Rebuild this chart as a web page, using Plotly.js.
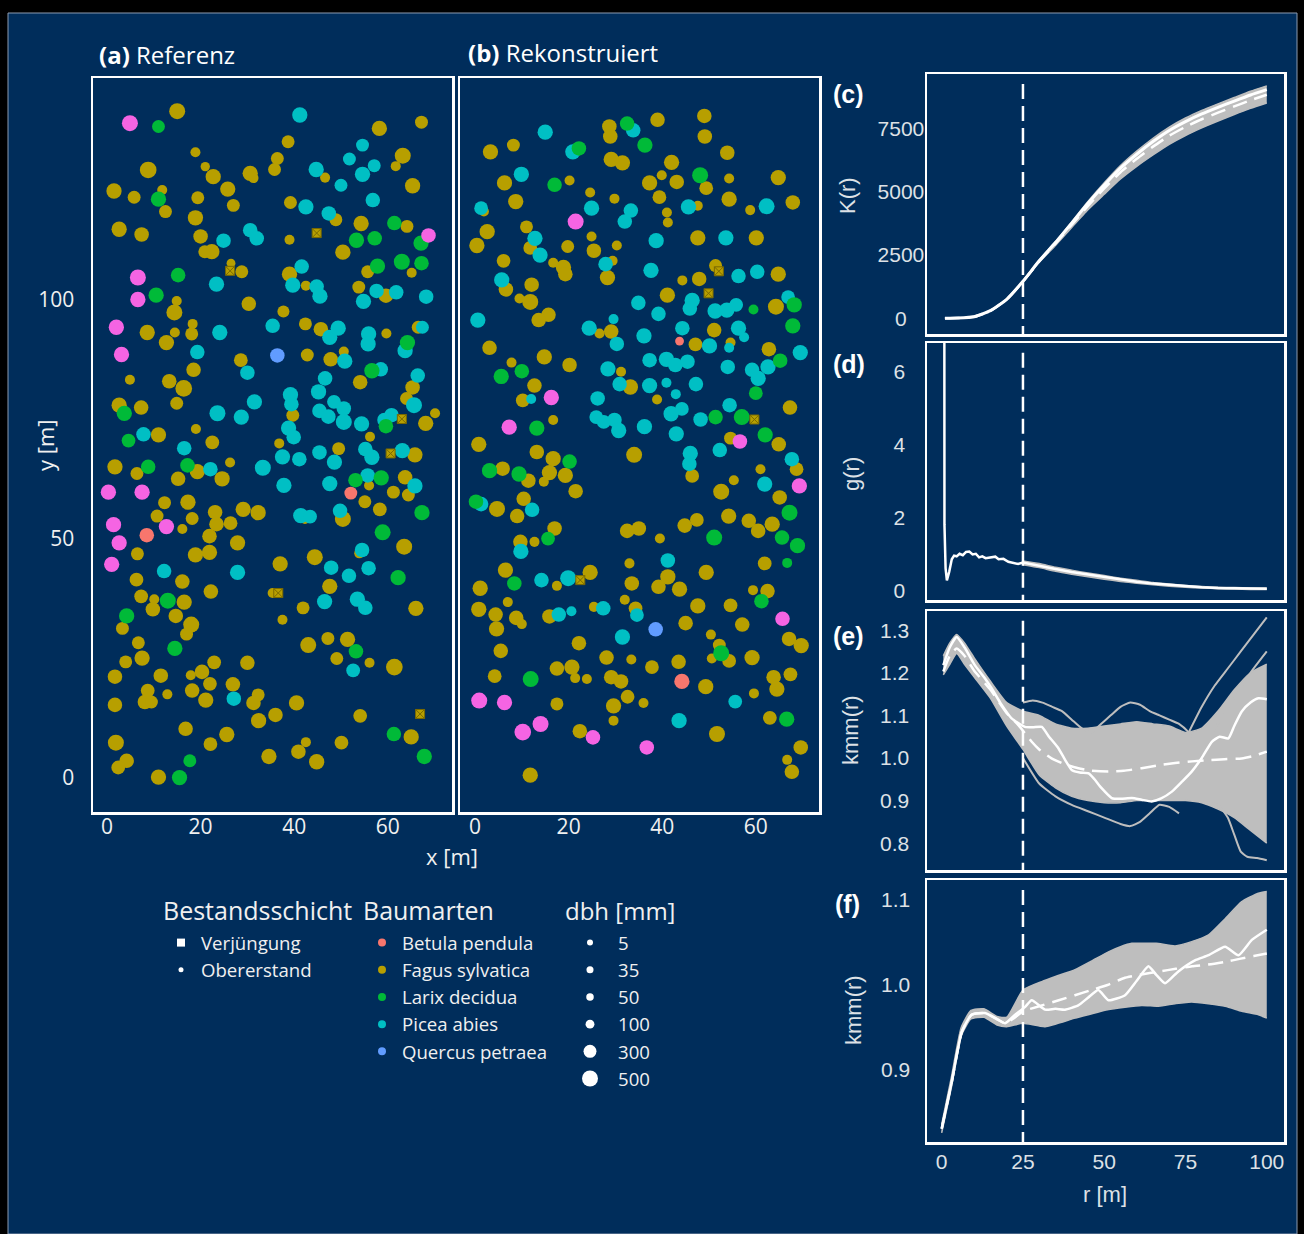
<!DOCTYPE html>
<html><head><meta charset="utf-8">
<script src="https://cdn.plot.ly/plotly-3.0.1.min.js"></script>
<style>html,body{margin:0;padding:0;background:#000;}#chart{width:1304px;height:1234px;}</style>
</head><body><div id="chart"></div>
<script>
// ---------------- DATA ----------------
// species codes: B Betula pendula, F Fagus sylvatica, L Larix decidua, P Picea abies, Q Quercus petraea, M (further species, not in legend)
const speciesCodes = ['B','F','L','P','Q'];
const speciesNames = ['Betula pendula','Fagus sylvatica','Larix decidua','Picea abies','Quercus petraea'];
const layerNames = ['Verjüngung','Obererstand'];
const legendTitles = ['Bestandsschicht','Baumarten','dbh [mm]'];
const dbhLegend = [5,35,50,100,300,500];
const kTicks = [0,2500,5000,7500];

// (a) Referenz: [x m, y m, species, dbh mm]
const refTrees = [
[4.9,137.0,'M',500],[11.0,136.3,'L',300],[15.0,139.5,'F',500],[41.2,138.7,'P',450],[58.2,135.9,'F',450],[67.2,137.2,'F',300],
[18.9,130.9,'F',150],[21.0,127.9,'F',120],[8.8,127.2,'F',550],[22.7,125.8,'F',450],[30.6,126.5,'F',450],[31.3,125.5,'F',150],
[36.4,129.6,'F',300],[35.8,127.3,'F',300],[38.7,133.1,'F',300],[44.7,127.3,'P',450],[46.6,125.6,'F',150],[51.8,129.5,'P',300],
[54.6,132.4,'P',300],[54.6,126.3,'P',450],[57.1,128.1,'P',300],[63.2,130.2,'F',500],[61.7,128.0,'F',150],[65.3,123.9,'F',450],
[50.0,124.0,'P',300],[1.5,122.8,'F',450],[5.8,121.5,'F',300],[11.8,123.0,'F',150],[11.0,121.1,'L',450],[12.5,118.5,'F',300],
[19.4,121.4,'F',300],[25.8,123.2,'F',450],[27.0,119.8,'F',300],[18.9,117.2,'F',450],[39.2,120.4,'F',300],[42.5,119.5,'P',450],
[47.4,118.1,'P',400],[48.9,116.8,'F',300],[56.8,120.9,'P',400],[54.3,116.0,'F',450],[61.4,116.1,'L',400],[64.1,115.4,'F',300],
[68.7,113.5,'M',400],[67.1,111.9,'L',450],[2.6,114.8,'F',450],[7.4,113.7,'F',400],[20.0,113.3,'F',400],[24.9,112.4,'P',400],
[30.6,114.6,'P',400],[32.0,112.9,'P',400],[39.0,112.6,'F',150],[53.3,112.5,'L',450],[57.2,112.9,'L',400],[50.4,110.0,'F',450],
[22.4,110.1,'F',450],[20.9,110.1,'F',300],[6.6,104.7,'M',500],[15.2,105.2,'L',400],[26.5,107.7,'F',100],[28.8,105.9,'F',300],
[23.4,103.3,'P',450],[41.6,107.0,'P',400],[39.0,105.4,'F',450],[39.7,103.1,'P',450],[42.5,103.0,'F',150],[44.8,102.8,'P',400],
[45.5,100.8,'P',450],[53.8,102.7,'F',300],[55.7,105.9,'F',300],[57.8,107.1,'L',450],[63.0,108.0,'L',500],[67.2,107.7,'L',400],
[65.1,105.7,'F',150],[57.6,101.9,'P',400],[61.8,101.6,'P',400],[59.6,100.9,'F',400],[68.2,100.7,'P',400],[54.8,99.7,'P',450],
[6.6,100.1,'M',450],[10.5,101.0,'L',450],[14.9,99.8,'F',150],[14.4,97.4,'F',500],[30.3,99.2,'F',400],[37.7,97.6,'F',250],
[2.0,94.3,'M',450],[8.6,93.2,'F',450],[14.5,93.2,'F',150],[18.1,92.9,'F',300],[18.3,95.0,'F',150],[24.1,93.2,'P',450],
[35.4,94.6,'P',400],[42.4,95.0,'F',300],[45.7,93.9,'F',400],[47.6,92.2,'P',450],[49.4,94.1,'P',450],[55.9,92.9,'P',450],
[55.8,90.8,'P',450],[59.7,93.0,'F',150],[66.5,94.3,'F',300],[67.4,94.3,'P',300],[64.2,91.1,'L',450],[63.7,89.4,'P',450],
[3.1,88.6,'M',450],[12.7,91.1,'F',450],[19.3,89.1,'P',400],[18.5,85.4,'F',400],[36.4,88.4,'Q',400],[28.6,87.4,'F',350],
[30.0,84.8,'P',400],[42.8,88.5,'F',300],[47.8,87.6,'F',400],[50.6,89.2,'F',150],[50.8,87.2,'P',450],[56.6,85.2,'L',450],
[58.5,85.5,'P',400],[66.4,84.2,'P',400],[4.9,83.3,'F',150],[13.3,83.0,'F',400],[16.4,81.5,'F',550],[54.1,82.8,'F',400],
[65.3,81.7,'F',400],[46.6,83.6,'P',400],[45.2,80.8,'P',450],[39.2,80.2,'P',450],[39.4,78.2,'P',400],[64.0,79.4,'F',300],
[65.6,78.0,'P',500],[2.6,78.0,'F',450],[3.7,76.3,'L',450],[7.3,77.5,'F',400],[14.9,78.4,'F',300],[23.6,76.3,'P',500],
[28.7,75.5,'P',450],[31.5,78.7,'P',450],[39.7,75.9,'F',300],[45.4,76.8,'P',400],[47.3,75.6,'P',400],[48.5,78.7,'P',350],
[50.6,77.3,'P',400],[50.6,74.5,'P',500],[54.4,74.1,'P',450],[59.3,74.9,'P',400],[60.8,75.9,'P',400],[59.6,73.6,'L',400],
[68.1,74.2,'F',450],[70.1,76.3,'F',150],[38.8,73.2,'P',450],[39.9,71.3,'P',400],[19.0,73.0,'F',150],[7.8,71.9,'P',400],
[11.0,71.8,'F',450],[4.6,70.6,'L',350],[22.5,70.2,'F',350],[16.5,69.0,'P',400],[36.8,70.0,'F',150],[49.5,68.9,'F',300],
[56.2,71.4,'F',150],[55.2,68.8,'P',400],[56.6,67.1,'P',450],[63.1,68.5,'P',450],[65.8,67.6,'F',450],[45.4,68.1,'P',400],
[48.6,66.1,'P',450],[37.5,67.2,'P',450],[41.1,66.7,'P',400],[33.3,64.9,'P',500],[1.7,65.1,'F',450],[6.4,63.7,'F',300],
[8.8,65.1,'L',400],[17.2,65.4,'L',400],[19.3,64.1,'F',450],[22.1,64.6,'P',400],[26.3,66.0,'F',150],[15.2,62.6,'F',400],
[24.6,62.6,'F',450],[37.8,61.2,'P',450],[47.6,61.6,'P',450],[53.1,62.3,'L',400],[55.7,63.3,'P',400],[58.6,62.8,'L',450],
[63.7,62.9,'F',400],[56.0,61.2,'F',150],[65.8,61.1,'P',450],[52.1,59.6,'B',300],[61.2,59.8,'F',300],[64.4,59.2,'F',300],
[0.3,59.8,'M',450],[7.5,59.8,'M',450],[55.1,57.8,'F',300],[58.3,56.2,'F',350],[12.3,57.6,'F',300],[17.3,57.7,'F',450],
[10.7,54.8,'F',300],[18.2,54.3,'F',300],[23.1,55.6,'F',400],[23.4,53.1,'F',400],[26.4,53.3,'F',350],[29.1,56.2,'F',450],
[32.3,55.5,'F',450],[41.4,54.9,'P',450],[43.4,54.7,'P',350],[42.3,54.2,'F',150],[49.8,55.9,'P',400],[50.4,54.2,'F',500],
[67.3,55.5,'L',450],[1.4,53.0,'M',450],[12.7,52.6,'M',450],[8.5,50.8,'B',400],[2.6,49.2,'M',450],[16.1,52.1,'F',150],
[21.9,50.6,'F',400],[27.9,49.2,'F',450],[58.9,51.4,'L',500],[63.5,48.4,'F',500],[54.5,47.7,'P',400],[53.9,47.0,'F',150],
[6.5,46.9,'F',300],[18.9,46.7,'F',450],[21.9,47.2,'F',450],[37.0,44.8,'F',450],[44.4,46.2,'F',500],[1.0,44.7,'M',450],
[12.2,43.3,'P',400],[27.9,43.0,'P',450],[47.9,44.0,'P',400],[55.9,43.9,'P',400],[51.7,42.3,'P',400],[62.2,41.9,'L',450],
[6.3,41.5,'F',350],[16.1,41.1,'F',400],[7.3,38.0,'F',350],[10.1,37.4,'F',150],[13.0,37.1,'L',500],[16.5,36.8,'F',450],
[4.2,33.9,'L',450],[9.8,35.3,'F',400],[14.7,33.9,'F',400],[18.0,32.1,'F',500],[17.0,30.1,'F',300],[3.3,31.3,'F',300],
[22.2,39.0,'F',400],[35.4,38.7,'F',150],[47.6,40.1,'F',450],[46.5,36.9,'P',450],[53.5,37.4,'P',450],[55.2,35.6,'P',400],
[41.9,35.6,'F',300],[66.0,35.5,'F',450],[37.5,33.1,'F',150],[6.7,28.3,'F',300],[14.5,27.1,'L',450],[43.0,27.8,'F',500],
[47.2,29.2,'F',300],[51.4,29.0,'F',450],[53.2,26.5,'L',400],[49.1,25.0,'F',300],[56.1,24.1,'F',150],[52.6,22.5,'P',350],
[61.4,23.2,'F',550],[4.0,24.3,'F',300],[7.5,25.1,'F',450],[1.7,21.2,'F',400],[11.5,21.4,'F',400],[17.9,21.5,'F',150],
[20.3,22.2,'F',400],[22.9,24.2,'F',350],[30.0,24.1,'F',400],[22.0,19.7,'F',350],[26.9,19.6,'F',400],[18.2,18.3,'F',400],
[8.7,18.3,'F',350],[8.1,15.9,'F',400],[9.5,15.9,'F',300],[12.9,17.5,'F',150],[21.1,16.3,'F',450],[27.1,16.6,'P',400],
[32.3,17.4,'F',300],[31.3,15.7,'F',400],[1.7,15.3,'F',400],[40.5,15.7,'F',450],[54.1,13.0,'F',350],[32.4,12.0,'F',450],
[36.0,13.2,'F',400],[16.8,10.3,'F',400],[1.9,7.4,'F',500],[22.1,7.1,'F',350],[25.6,9.1,'F',450],[42.5,7.5,'F',150],
[40.9,5.5,'F',400],[50.1,7.4,'F',350],[61.3,9.2,'L',400],[65.0,8.6,'F',450],[4.2,3.6,'F',400],[2.4,2.2,'F',350],
[34.6,4.5,'F',450],[44.8,3.4,'F',450],[67.8,4.5,'L',450],[17.7,3.6,'L',300],[11.0,0.2,'F',450],[15.5,0.1,'L',450]
];
// (a) regeneration (Verjüngung), Fagus sylvatica: [x, y]
const refRegen = [[44.8,114.0],[26.3,106.1],[63.0,75.1],[60.6,67.9],[36.6,38.7],[66.9,13.4]];

// (b) Rekonstruiert
const recTrees = [
[15.0,135.1,'P',450],[28.7,136.3,'F',400],[28.9,134.2,'F',400],[33.8,135.5,'P',400],[32.5,136.9,'L',400],[39.0,137.7,'F',400],
[49.0,138.5,'F',400],[49.1,134.2,'F',400],[36.3,132.4,'L',450],[3.3,131.0,'F',450],[8.2,132.4,'F',300],[20.9,131.0,'P',450],
[22.2,131.7,'L',400],[29.1,129.4,'F',450],[31.5,128.7,'F',450],[42.0,128.8,'F',450],[53.9,130.8,'F',400],[9.9,126.3,'P',450],
[6.3,124.5,'F',450],[17.0,124.1,'L',400],[20.2,125.0,'F',150],[37.3,124.5,'F',450],[39.9,126.1,'F',150],[43.1,124.7,'F',400],
[48.1,126.1,'L',500],[49.4,123.4,'F',350],[54.3,125.4,'F',150],[64.8,125.6,'F',450],[8.7,120.6,'F',450],[24.6,122.5,'F',150],
[29.8,121.2,'F',150],[39.4,121.5,'F',350],[54.3,121.1,'F',450],[67.9,120.4,'F',400],[1.9,118.5,'F',150],[1.3,119.2,'P',350],
[24.9,119.2,'P',450],[33.3,118.7,'P',400],[32.0,116.4,'P',400],[45.6,119.5,'P',450],[47.6,119.7,'F',150],[41.0,118.3,'F',150],
[41.2,116.2,'F',150],[58.8,118.8,'F',150],[62.3,119.6,'P',500],[21.5,116.4,'M',500],[2.6,114.3,'F',450],[11.0,115.3,'F',300],
[11.8,110.9,'F',350],[12.8,112.9,'P',450],[0.4,111.4,'F',450],[13.9,109.4,'P',450],[24.9,113.3,'F',150],[25.4,110.3,'F',400],
[19.8,111.2,'F',300],[30.3,111.4,'F',150],[38.7,112.4,'P',450],[47.6,113.0,'F',450],[53.6,113.0,'P',450],[60.1,113.0,'F',450],
[6.1,108.2,'F',350],[16.7,107.8,'F',150],[18.9,106.8,'F',450],[19.3,105.4,'F',400],[29.4,108.2,'F',150],[27.9,107.5,'P',400],
[28.3,104.7,'F',450],[37.6,106.2,'P',450],[51.4,107.2,'F',300],[56.3,105.0,'P',400],[60.3,105.9,'P',400],[64.8,105.4,'F',450],
[6.6,102.2,'F',400],[5.7,104.2,'P',450],[12.1,103.2,'F',400],[9.5,100.3,'F',150],[11.8,99.6,'F',500],[15.7,96.9,'F',400],
[13.6,95.8,'F',400],[34.9,99.4,'P',400],[41.1,101.0,'F',450],[44.3,104.1,'F',150],[47.9,104.4,'F',400],[46.4,99.9,'P',450],
[45.9,98.2,'P',400],[39.2,97.1,'P',400],[29.6,96.0,'P',150],[51.3,97.7,'P',450],[53.8,97.9,'P',450],[55.8,99.0,'P',350],
[59.5,98.0,'L',150],[64.3,98.6,'F',500],[66.9,100.6,'P',350],[68.2,99.0,'L',450],[0.6,95.8,'P',450],
[24.4,94.1,'P',450],[26.6,93.0,'F',150],[29.1,93.4,'F',400],[30.3,90.8,'P',400],[36.1,92.5,'P',450],[44.3,94.1,'P',400],
[51.1,93.7,'F',400],[56.3,94.1,'P',450],[57.5,92.2,'P',150],[67.9,94.6,'L',450],[3.1,90.0,'F',400],[14.8,88.1,'F',450],
[20.2,86.4,'F',400],[43.7,91.4,'B',100],[47.1,90.7,'F',350],[50.1,90.4,'P',450],[54.6,91.1,'F',150],[54.3,90.0,'P',150],
[62.8,89.7,'F',400],[69.5,89.0,'P',450],[7.8,86.9,'F',150],[5.6,84.0,'L',450],[10.0,85.1,'L',400],[12.7,82.1,'F',400],
[16.3,79.6,'M',450],[12.0,79.3,'P',150],[10.2,79.0,'F',350],[16.7,74.9,'F',150],[7.3,73.4,'M',450],[13.2,73.2,'L',450],
[28.4,85.6,'P',450],[31.2,85.0,'F',150],[37.3,87.4,'P',400],[40.9,87.6,'P',450],[42.8,86.4,'P',400],[45.4,87.1,'P',400],
[30.9,82.4,'P',400],[33.2,81.8,'F',450],[37.3,82.1,'P',450],[40.9,82.7,'P',150],[47.2,82.4,'P',400],[42.9,80.3,'P',150],
[38.9,79.2,'F',150],[26.2,79.4,'P',400],[54.0,86.0,'P',400],[59.2,85.4,'P',400],[62.6,86.0,'P',450],[60.5,83.6,'P',450],
[65.2,87.3,'L',400],[60.0,80.5,'L',350],[54.4,78.0,'P',400],[54.4,77.6,'F',150],[67.3,77.5,'F',400],[41.9,76.2,'P',450],
[44.2,77.2,'P',350],[48.2,75.0,'P',400],[51.4,75.5,'L',400],[57.0,75.5,'L',500],[25.9,75.5,'P',350],[27.5,74.5,'P',350],
[29.8,74.9,'P',400],[30.7,72.7,'P',450],[36.2,73.5,'P',450],[43.0,72.0,'P',450],[62.0,71.8,'L',450],[54.6,71.1,'F',300],
[56.6,70.4,'M',400],[64.9,69.8,'F',400],[0.8,69.8,'F',450],[13.2,68.2,'F',400],[16.7,66.8,'F',450],[20.2,66.2,'L',400],
[34.0,67.6,'F',500],[46.0,67.9,'P',450],[45.8,65.7,'P',400],[52.3,68.6,'P',400],[67.7,66.7,'P',400],[68.7,64.6,'F',350],
[3.1,64.3,'L',450],[5.9,64.7,'F',400],[9.4,63.6,'L',450],[11.4,62.2,'F',400],[14.7,62.0,'F',150],[15.9,63.9,'F',450],
[19.3,63.3,'F',450],[46.4,63.2,'F',350],[61.0,64.6,'F',150],[61.9,61.5,'P',450],[55.3,62.3,'F',150],[69.3,61.1,'M',450],
[21.5,60.0,'F',400],[52.6,59.9,'F',500],[65.1,58.7,'F',400],[0.2,57.8,'L',400],[1.3,57.3,'P',400],[4.7,56.3,'F',500],
[10.4,58.4,'F',400],[12.2,56.1,'P',400],[9.0,54.8,'F',400],[67.2,55.5,'L',500],[54.2,54.8,'F',450],[58.5,53.8,'F',400],
[60.5,51.7,'F',400],[63.5,53.1,'F',450],[17.0,52.2,'F',400],[32.5,51.7,'F',400],[35.0,52.2,'F',400],[44.8,52.8,'F',400],
[47.4,54.0,'F',350],[51.1,50.3,'L',500],[39.5,50.1,'F',150],[12.7,49.4,'F',150],[15.6,50.1,'L',350],[9.7,49.4,'F',400],
[9.8,47.4,'P',450],[65.6,50.3,'L',400],[68.9,48.6,'L',450],[41.2,45.5,'P',400],[33.0,44.9,'F',150],[61.9,44.9,'F',350],
[66.7,45.0,'L',150],
[6.5,43.5,'F',450],[8.4,40.7,'L',400],[14.2,41.4,'P',400],[19.9,41.8,'P',500],[24.6,43.0,'F',450],[17.5,40.2,'F',150],
[1.1,39.7,'F',450],[33.5,40.7,'F',400],[39.2,40.0,'F',400],[41.2,42.1,'F',450],[43.7,39.5,'F',450],[49.4,43.0,'F',450],
[59.4,39.3,'F',150],[62.5,39.1,'F',400],[61.2,37.0,'L',400],[0.8,35.3,'F',450],[4.4,34.2,'F',400],[7.0,36.8,'F',150],
[8.8,33.5,'F',400],[10.0,32.2,'F',150],[4.6,31.2,'F',450],[15.9,33.8,'F',400],[17.9,34.2,'P',400],[20.6,34.9,'P',150],
[25.4,35.8,'F',150],[27.4,35.5,'P',400],[32.0,37.3,'F',150],[34.3,35.5,'F',350],[34.6,34.1,'P',350],[47.6,36.0,'F',450],
[54.6,36.1,'F',350],[65.7,33.3,'M',400],[38.6,31.1,'Q',400],[45.0,32.4,'F',400],[57.1,32.1,'F',400],[31.5,29.5,'P',450],
[5.5,26.6,'F',400],[22.2,28.2,'F',400],[50.4,30.0,'F',150],[52.2,27.8,'F',300],[52.6,26.1,'L',500],[54.3,24.5,'F',350],
[50.6,25.0,'F',150],[67.1,29.1,'F',400],[69.7,27.7,'F',450],[59.2,25.2,'F',450],[28.1,25.2,'F',400],[33.4,24.8,'F',150],
[43.5,24.3,'F',400],[37.8,23.2,'F',350],[17.5,22.9,'F',400],[20.7,23.2,'F',450],[21.4,20.9,'F',150],[23.9,20.7,'F',150],
[4.2,21.3,'F',350],[11.9,20.7,'L',500],[29.1,21.1,'F',400],[31.2,20.2,'F',400],[67.4,21.7,'F',350],[63.8,21.1,'F',400],
[64.5,18.6,'F',450],[44.2,20.2,'B',450],[49.3,19.1,'F',450],[59.6,17.7,'F',150],[0.9,16.2,'M',500],[6.3,15.8,'M',450],
[17.5,15.5,'F',300],[32.6,17.0,'F',350],[29.6,15.1,'F',450],[36.0,15.7,'F',150],[55.6,16.0,'P',350],[63.0,12.6,'F',350],
[66.6,12.3,'L',450],[43.6,12.0,'P',450],[29.6,12.0,'F',150],[14.0,11.3,'M',500],[10.2,9.6,'M',550],[22.4,9.8,'F',400],
[25.2,8.5,'M',400],[36.7,6.4,'M',400],[51.7,9.2,'F',500],[69.6,6.4,'F',400],[66.7,3.8,'F',150],[67.7,1.3,'F',400],
[11.8,0.6,'F',450]
];
const recRegen = [[52.1,106.0],[49.9,101.4],[59.7,75.0],[22.5,41.4]];

// (c) K(r)
const kR    = [1,5,10,15,20,25,30,35,40,45,50,55,60,65,70,75,80,85,90,95,100];
const kObs  = [0,10,60,300,750,1460,2270,2990,3760,4540,5260,5930,6480,6980,7420,7770,8070,8330,8580,8820,9030];
const kMean = [0,10,60,300,750,1450,2250,2950,3700,4440,5130,5770,6300,6780,7210,7560,7860,8120,8370,8610,8830];
const kHi   = [0,10,60,300,770,1480,2300,3030,3810,4610,5350,6030,6600,7110,7550,7910,8210,8470,8720,8970,9180];
const kLo   = [0,10,60,300,730,1420,2210,2880,3590,4290,4900,5500,6000,6450,6870,7220,7520,7790,8050,8290,8500];

// (d) g(r)
const gR   = [0.8,0.85,1.2,1.6,2.3,3.1,3.8,4.6,5.5,6.5,7.5,8.5,9.5,10.5,11.5,12.5,13.5,15,16.5,17.5,19,20.5,22,23.5,25,27,30,35,40,45,50,55,60,65,70,75,80,85,90,95,100];
const gObs = [10,1.8,0.6,0.27,0.5,0.85,0.95,0.93,1.0,0.96,1.05,1.06,0.98,1.0,0.9,0.93,0.88,0.9,0.92,0.85,0.86,0.78,0.76,0.72,0.76,0.72,0.68,0.58,0.5,0.43,0.36,0.29,0.23,0.18,0.14,0.11,0.08,0.06,0.05,0.04,0.04];
const gBandR = [25,30,35,40,45,50,55,60,65,70,75,80,85,90,95,100];
const gHi    = [0.80,0.73,0.63,0.55,0.47,0.40,0.33,0.27,0.21,0.17,0.13,0.10,0.08,0.07,0.06,0.06];
const gLo    = [0.70,0.62,0.52,0.44,0.37,0.30,0.24,0.19,0.15,0.11,0.08,0.06,0.04,0.03,0.02,0.02];

// (e) kmm(r), Referenz vs. simulations
const eObsR = [0.5,2.5,4.6,7,10.2,13,15.4,18,21.5,25.6,28,30.8,33,35.9,38,40,42.5,45.2,47,49.2,52.3,55,58.5,61.5,64.6,67.5,70.8,74,76.9,80,83.1,85.5,88.2,90,92.3,95,97.4,100];
const eObs  = [1.218,1.26,1.284,1.26,1.218,1.19,1.163,1.13,1.093,1.073,1.072,1.073,1.05,1.023,0.995,0.972,0.966,0.964,0.95,0.929,0.906,0.904,0.906,0.902,0.898,0.905,0.921,0.945,0.968,1.0,1.038,1.05,1.046,1.075,1.109,1.13,1.14,1.138];
const eMeanR = [0.5,2.5,4.6,7,10,15,20,23.6,27.7,30,33.8,38,42,46,51.3,56,61.5,66,71.8,77,82.1,87,92.3,96,100];
const eMean  = [1.203,1.24,1.257,1.24,1.205,1.16,1.105,1.077,1.038,1.02,0.999,0.985,0.976,0.97,0.968,0.97,0.976,0.982,0.988,0.992,0.995,0.997,0.999,1.005,1.015];
const eBandR = [0.5,2.5,4.6,7,10,15,20,25,30,35,40,45,50,55,60,65,70,75,80,85,90,95,100];
const eHi    = [1.24,1.27,1.29,1.27,1.235,1.18,1.13,1.11,1.10,1.08,1.07,1.07,1.075,1.08,1.085,1.08,1.075,1.06,1.07,1.11,1.16,1.20,1.22];
const eLo    = [1.195,1.22,1.245,1.22,1.19,1.14,1.075,1.02,0.96,0.93,0.91,0.90,0.895,0.895,0.90,0.90,0.90,0.90,0.895,0.88,0.86,0.83,0.80];
const eOut1R = [25,28,31,34,37,40,43,46,49,52,55,58,61,64,67,70,73,76,78];
const eOut1  = [1.13,1.135,1.13,1.12,1.11,1.09,1.07,1.06,1.08,1.10,1.12,1.13,1.125,1.11,1.10,1.09,1.08,1.06,1.04];
const eOut2R = [76,80,84,88,92,96,100];
const eOut2  = [1.06,1.12,1.17,1.21,1.25,1.29,1.33];
const eOut3R = [25,30,35,40,45,50,55,58,61,64,67,70,73];
const eOut3  = [1.0,0.94,0.91,0.89,0.875,0.86,0.845,0.84,0.85,0.87,0.89,0.885,0.87];
const eOut4R = [78,82,85,88,90,92,94,97,100];
const eOut4  = [0.9,0.895,0.89,0.86,0.82,0.78,0.768,0.765,0.76];
const eOut5R = [80,85,90,95,100];
const eOut5  = [1.02,1.08,1.14,1.20,1.25];

// (f) kmm(r), Rekonstruiert vs. simulations
const fObsR = [0,3.1,6.2,9.2,13.3,17.4,19.5,22.6,25.6,27.7,31.8,35,37.9,42,45,48.2,51.3,56.4,60,63.6,66,68.7,72.8,77.9,82.1,87.2,91.3,95.4,100];
const fObs  = [0.831,0.886,0.945,0.965,0.967,0.959,0.955,0.965,0.974,0.982,0.971,0.972,0.971,0.976,0.985,0.994,0.982,0.988,1.005,1.022,1.012,1.002,1.016,1.029,1.035,1.045,1.035,1.053,1.065];
const fMeanR = [0,3.1,6.2,9.2,13.3,17.4,19.5,22.6,25,30,36,41,46,51,56,61,67,72,77,82,87,92,96,100];
const fMean  = [0.831,0.886,0.945,0.965,0.967,0.959,0.955,0.962,0.969,0.975,0.982,0.988,0.994,1.0,1.008,1.012,1.016,1.019,1.022,1.024,1.027,1.031,1.034,1.037];
const fHiR = [0,3,6,9,13,17,20,25,30.8,35,41,46,51.3,55,58.5,62,66,71.8,76.9,82.1,87.2,92.3,97.4,100];
const fHi  = [0.836,0.892,0.95,0.97,0.972,0.963,0.962,0.994,1.004,1.01,1.018,1.028,1.039,1.045,1.049,1.049,1.049,1.046,1.051,1.059,1.078,1.098,1.108,1.11];
const fLoR = [0,3,6,9,13,17,20,25,31.8,41,51,61.5,66.7,71.8,76.9,87.2,92.3,97.4,100];
const fLo  = [0.826,0.88,0.94,0.96,0.962,0.953,0.951,0.955,0.951,0.961,0.971,0.976,0.975,0.978,0.98,0.975,0.969,0.965,0.961];

const rMark = 25;

// ---------------- STYLE / LAYOUT ----------------
const W = 1304, H = 1234;
const NAVY = '#002d5b';
const GREY = '#bebebe';
const colorOf = {B:'#F8766D', F:'#B79F00', L:'#00BA38', P:'#00BFC4', Q:'#619CFF', M:'#F564E3'};
const px = v => v / W, py = v => 1 - v / H;
const dbhSize = d => Math.sqrt(33.8 + 0.444 * d);
// centre short tick labels under the 4-digit ones (labels centred as in the reference)
const padCentre = (s, n) => s + '\u2007'.repeat(Math.floor((n - s.length) / 2)) + ((n - s.length) % 2 ? '\u2008' : '');

const traces = [];
function addTrees(trees, regen, xa, ya) {
  ['F','P','L','B','Q','M'].forEach(sp => {
    const pts = trees.filter(t => t[2] === sp);
    traces.push({type:'scatter', mode:'markers', xaxis:xa, yaxis:ya, showlegend:false, hoverinfo:'skip',
      x: pts.map(p => p[0]), y: pts.map(p => p[1]),
      marker:{color:colorOf[sp], opacity:1, size: pts.map(p => dbhSize(p[3])), line:{width:0}}});
  });
  traces.push({type:'scatter', mode:'markers', xaxis:xa, yaxis:ya, showlegend:false, hoverinfo:'skip',
    x: regen.map(p => p[0]), y: regen.map(p => p[1]),
    marker:{color:colorOf.F, opacity:1, symbol:'square-x', size:9, line:{color:'#7a6a00', width:1}}});
}
addTrees(refTrees, refRegen, 'x', 'y');
addTrees(recTrees, recRegen, 'x2', 'y2');

function ln(x, y, xa, ya, color, width, dash) {
  return {type:'scatter', mode:'lines', x, y, xaxis:xa, yaxis:ya, showlegend:false, hoverinfo:'skip',
    line:{color, width, dash: dash || 'solid', shape:'spline', smoothing:0.5}};
}
function band(xl, yl, xh, yh, xa, ya) {
  const lo = ln(xl, yl, xa, ya, GREY, 1.5);
  const hi = ln(xh, yh, xa, ya, GREY, 1.5);
  hi.fill = 'tonexty'; hi.fillcolor = GREY;
  traces.push(lo, hi);
}
// (c)
band(kR, kLo, kR, kHi, 'x3', 'y3');
traces.push(ln(kR, kMean, 'x3', 'y3', 'white', 2.5, '15px,8px'));
traces.push(ln(kR, kObs, 'x3', 'y3', 'white', 3));
// (d)
band(gBandR, gLo, gBandR, gHi, 'x4', 'y4');
const gLine = ln(gR, gObs, 'x4', 'y4', 'white', 2.5); gLine.line.shape = 'linear';
traces.push(gLine);
// (e)
band(eBandR, eLo, eBandR, eHi, 'x5', 'y5');
[[eOut1R,eOut1],[eOut2R,eOut2],[eOut3R,eOut3],[eOut4R,eOut4],[eOut5R,eOut5]].forEach(o => traces.push(ln(o[0], o[1], 'x5', 'y5', GREY, 2)));
traces.push(ln(eMeanR, eMean, 'x5', 'y5', 'white', 2.5, '16px,8px'));
traces.push(ln(eObsR, eObs, 'x5', 'y5', 'white', 2.5));
// (f)
band(fLoR, fLo, fHiR, fHi, 'x6', 'y6');
traces.push(ln(fMeanR, fMean, 'x6', 'y6', 'white', 2.5, '15px,8px'));
traces.push(ln(fObsR, fObs, 'x6', 'y6', 'white', 2.5));

// legends (entries without data points)
const FL = 'Open Sans, Noto Sans, sans-serif';
const FR = 'Liberation Sans, Arial, sans-serif';
const legFont = {family:FL, size:18.6, color:'#f0f0f0'};
[['square',8],['circle',5]].forEach((s, i) => traces.push({type:'scatter', mode:'markers', x:[null], y:[null],
  name: layerNames[i], legend:'legend', marker:{symbol:s[0], size:s[1], color:'white'}}));
speciesCodes.forEach((c, i) => traces.push({type:'scatter', mode:'markers', x:[null], y:[null],
  name: speciesNames[i], legend:'legend2', marker:{size:8, color:colorOf[c]}}));
dbhLegend.forEach(d => traces.push({type:'scatter', mode:'markers', x:[null], y:[null],
  name: String(d), legend:'legend3', marker:{size:dbhSize(d), color:'white'}}));

const boxAxis = {showline:true, mirror:true, linecolor:'white', linewidth:2.5, showgrid:false, zeroline:false, ticks:'', fixedrange:true};
const leftTick = {family:FL, size:21, color:'#f0f0f0'};
const rightTick = {family:FR, size:21, color:'#dde1e6'};
const rDom = [px(927), px(1284)], rRange = [-4.52, 105.3];
const legBase = {xanchor:'left', yanchor:'top', bgcolor:'rgba(0,0,0,0)', font:legFont, itemsizing:'trace', traceorder:'normal',
  itemclick:false, itemdoubleclick:false};

const layout = {
  width:W, height:H, margin:{l:0,r:0,t:0,b:0, autoexpand:false},
  paper_bgcolor:'#000000', plot_bgcolor:NAVY, showlegend:true, hovermode:false,
  xaxis: Object.assign({}, boxAxis, {domain:[px(93),px(452)], range:[-2.99,73.72], anchor:'y', tickvals:[0,20,40,60], tickfont:leftTick, ticklabelstandoff:-6}),
  yaxis: Object.assign({}, boxAxis, {domain:[py(812),py(78)], range:[-7.11,146.44], anchor:'x', tickvals:[0,50,100], tickfont:leftTick, ticklabelstandoff:12}),
  xaxis2: Object.assign({}, boxAxis, {domain:[px(460),px(819)], range:[-3.21,73.5], anchor:'y2', tickvals:[0,20,40,60], tickfont:leftTick, ticklabelstandoff:-6}),
  yaxis2: Object.assign({}, boxAxis, {domain:[py(812),py(78)], range:[-7.11,146.44], anchor:'x2', showticklabels:false}),
  xaxis3: Object.assign({}, boxAxis, {domain:rDom, range:rRange, anchor:'y3', showticklabels:false}),
  yaxis3: Object.assign({}, boxAxis, {domain:[py(334),py(74)], range:[-620,9648], anchor:'x3', tickmode:'array', tickvals:kTicks,
    ticktext:kTicks.map(v => padCentre(String(v), 4)), tickfont:rightTick, ticklabelstandoff:-4}),
  xaxis4: Object.assign({}, boxAxis, {domain:rDom, range:rRange, anchor:'y4', showticklabels:false}),
  yaxis4: Object.assign({}, boxAxis, {domain:[py(600),py(343)], range:[-0.27,6.79], anchor:'x4', tickvals:[0,2,4,6], tickfont:rightTick, ticklabelstandoff:15}),
  xaxis5: Object.assign({}, boxAxis, {domain:rDom, range:rRange, anchor:'y5', showticklabels:false}),
  yaxis5: Object.assign({}, boxAxis, {domain:[py(870),py(611)], range:[0.737,1.345], anchor:'x5', tickvals:[0.8,0.9,1.0,1.1,1.2,1.3], tickformat:'.1f', tickfont:rightTick, ticklabelstandoff:11}),
  xaxis6: Object.assign({}, boxAxis, {domain:rDom, range:rRange, anchor:'y6', tickvals:[0,25,50,75,100], tickfont:rightTick, ticklabelstandoff:-1}),
  yaxis6: Object.assign({}, boxAxis, {domain:[py(1142),py(880)], range:[0.8153,1.1235], anchor:'x6', tickvals:[0.9,1.0,1.1], tickformat:'.1f', tickfont:rightTick, ticklabelstandoff:10}),
  shapes: [
    {type:'rect', xref:'paper', yref:'paper', x0:px(8), x1:px(1297), y0:0, y1:py(13), layer:'below', fillcolor:NAVY, line:{color:'#8c9bb0', width:1}}
  ].concat([3,4,5,6].map(k => ({type:'line', xref:'x'+k, yref:'y'+k+' domain', x0:rMark, x1:rMark, y0:0.962, y1:0,
    line:{color:'white', width:2.5, dash:'15px,7px'}, layer:'above'}))),
  annotations: [
    {text:'<b>(a)</b> Referenz', x:px(97), y:py(54), xanchor:'left', yanchor:'middle', font:{family:FL, size:24, color:'white'}},
    {text:'<b>(b)</b> Rekonstruiert', x:px(466), y:py(52), xanchor:'left', yanchor:'middle', font:{family:FL, size:24, color:'white'}},
    {text:'y [m]', x:px(45), y:py(445), textangle:-90, xanchor:'center', yanchor:'middle', font:{family:FL, size:22, color:'#f0f0f0'}},
    {text:'x [m]', x:px(452), y:py(856), xanchor:'center', yanchor:'middle', font:{family:FL, size:22, color:'#f0f0f0'}},
    {text:'<b>(c)</b>', x:px(831), y:py(94), xanchor:'left', yanchor:'middle', font:{family:FR, size:25, color:'white'}},
    {text:'<b>(d)</b>', x:px(831), y:py(364), xanchor:'left', yanchor:'middle', font:{family:FR, size:25, color:'white'}},
    {text:'<b>(e)</b>', x:px(831), y:py(636), xanchor:'left', yanchor:'middle', font:{family:FR, size:25, color:'white'}},
    {text:'<b>(f)</b>', x:px(833), y:py(904), xanchor:'left', yanchor:'middle', font:{family:FR, size:25, color:'white'}},
    {text:'K(r)', x:px(847), y:py(196), textangle:-90, xanchor:'center', yanchor:'middle', font:{family:FR, size:22, color:'#dde1e6'}},
    {text:'g(r)', x:px(851), y:py(474), textangle:-90, xanchor:'center', yanchor:'middle', font:{family:FR, size:22, color:'#dde1e6'}},
    {text:'kmm(r)', x:px(850), y:py(730), textangle:-90, xanchor:'center', yanchor:'middle', font:{family:FR, size:22, color:'#dde1e6'}},
    {text:'kmm(r)', x:px(853), y:py(1010), textangle:-90, xanchor:'center', yanchor:'middle', font:{family:FR, size:22, color:'#dde1e6'}},
    {text:'r [m]', x:px(1105), y:py(1194), xanchor:'center', yanchor:'middle', font:{family:FR, size:22, color:'#dde1e6'}},
    {text:legendTitles[0], x:px(161), y:py(910), xanchor:'left', yanchor:'middle', font:{family:FL, size:25, color:'#f0f0f0'}},
    {text:legendTitles[1], x:px(361), y:py(910), xanchor:'left', yanchor:'middle', font:{family:FL, size:25, color:'#f0f0f0'}},
    {text:legendTitles[2], x:px(563), y:py(910), xanchor:'left', yanchor:'middle', font:{family:FL, size:24, color:'#f0f0f0'}}
  ].map(a => Object.assign({xref:'paper', yref:'paper', showarrow:false}, a)),
  legend:  Object.assign({}, legBase, {x:px(161), y:py(924), itemwidth:30}),
  legend2: Object.assign({}, legBase, {x:px(362), y:py(924), itemwidth:30}),
  legend3: Object.assign({}, legBase, {x:px(562), y:py(924), itemwidth:46})
};

Plotly.newPlot('chart', traces, layout, {staticPlot:true, displayModeBar:false});
</script></body></html>
